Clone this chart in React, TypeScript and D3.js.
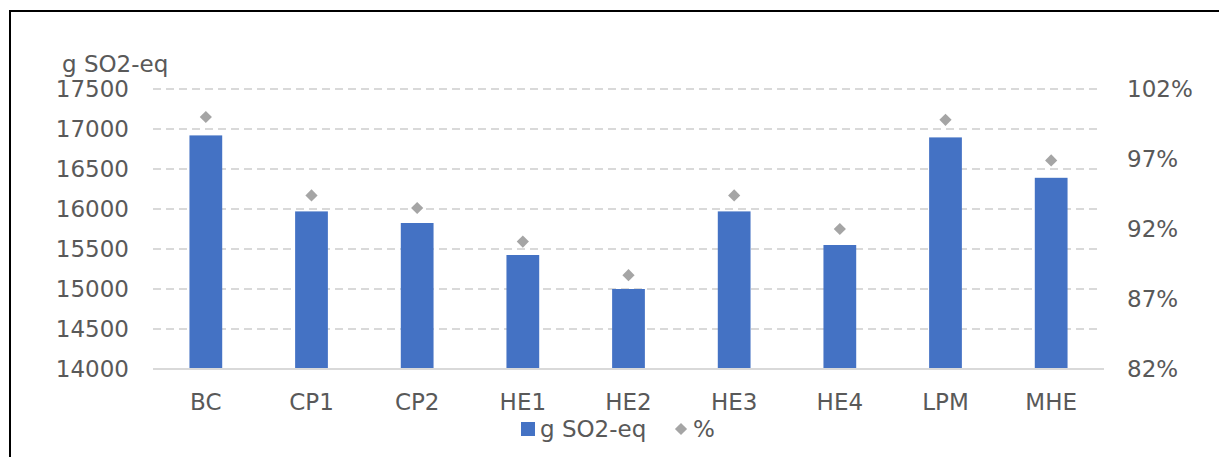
import { useEffect, useRef } from 'react';
import * as d3 from 'd3';

const categories = ['BC', 'CP1', 'CP2', 'HE1', 'HE2', 'HE3', 'HE4', 'LPM', 'MHE'];
const so2Values = [16920, 15970, 15825, 15425, 15000, 15970, 15550, 16895, 16390];
const pctValues = [100.0, 94.4, 93.5, 91.1, 88.7, 94.4, 92.0, 99.8, 96.9];
const leftTicks = [14000, 14500, 15000, 15500, 16000, 16500, 17000, 17500];
const rightTicks = [82, 87, 92, 97, 102];

const W = 1219;
const H = 457;
const FONT = '"DejaVu Sans", Verdana, sans-serif';
const TEXT = '#595959';

const App = () => {
  const svgRef = useRef<SVGSVGElement>(null);

  useEffect(() => {
    if (!svgRef.current) return;
    const svg = d3.select(svgRef.current);
    svg.selectAll('*').remove();

    const left = 153;
    const right = 1104;
    const top = 89;
    const bottom = 369;

    // outer frame (only top and left edges are visible)
    svg.append('path')
      .attr('d', `M10,${H} L10,11 L${W},11`)
      .attr('fill', 'none')
      .attr('stroke', '#000')
      .attr('stroke-width', 2);

    const x = d3.scaleBand<string>()
      .domain(categories)
      .range([left, right])
      .paddingInner(0.69)
      .paddingOuter(0.345);

    const y = d3.scaleLinear().domain([14000, 17500]).range([bottom, top]);
    const y2 = d3.scaleLinear().domain([82, 102]).range([bottom, top]);

    // gridlines
    svg.append('g')
      .selectAll('line')
      .data(leftTicks.slice(1))
      .join('line')
      .attr('x1', left)
      .attr('x2', right - 4)
      .attr('y1', d => y(d))
      .attr('y2', d => y(d))
      .attr('stroke', '#d9d9d9')
      .attr('stroke-width', 2)
      .attr('stroke-dasharray', '8,5');

    // left tick labels
    svg.append('g')
      .selectAll('text')
      .data(leftTicks)
      .join('text')
      .attr('x', 129)
      .attr('y', d => y(d) + 8)
      .attr('text-anchor', 'end')
      .style('font-family', FONT)
      .style('font-size', '23px')
      .style('fill', TEXT)
      .text(d => String(d));

    // right tick labels
    svg.append('g')
      .selectAll('text')
      .data(rightTicks)
      .join('text')
      .attr('x', 1127)
      .attr('y', d => y2(d) + 8)
      .attr('text-anchor', 'start')
      .style('font-family', FONT)
      .style('font-size', '23px')
      .style('fill', TEXT)
      .text(d => `${d}%`);

    // axis title
    svg.append('text')
      .attr('x', 62)
      .attr('y', 72)
      .style('font-family', FONT)
      .style('font-size', '23px')
      .style('fill', TEXT)
      .text('g SO2-eq');

    // bars
    svg.append('g')
      .selectAll('rect')
      .data(categories)
      .join('rect')
      .attr('x', d => x(d) || 0)
      .attr('y', (d, i) => y(so2Values[i]))
      .attr('width', x.bandwidth())
      .attr('height', (d, i) => bottom - y(so2Values[i]))
      .attr('fill', '#4472c4');

    // x axis line
    svg.append('line')
      .attr('x1', left)
      .attr('x2', right)
      .attr('y1', bottom)
      .attr('y2', bottom)
      .attr('stroke', '#d9d9d9')
      .attr('stroke-width', 2);

    // diamonds
    const diamond = d3.symbol().type(d3.symbolDiamond2).size(95);
    svg.append('g')
      .selectAll('path')
      .data(categories)
      .join('path')
      .attr('d', diamond)
      .attr('transform', (d, i) =>
        `translate(${(x(d) || 0) + x.bandwidth() / 2},${y2(pctValues[i])})`)
      .attr('fill', '#a5a5a5');

    // category labels
    svg.append('g')
      .selectAll('text')
      .data(categories)
      .join('text')
      .attr('x', d => (x(d) || 0) + x.bandwidth() / 2)
      .attr('y', 410)
      .attr('text-anchor', 'middle')
      .style('font-family', FONT)
      .style('font-size', '23px')
      .style('fill', TEXT)
      .text(d => d);

    // legend
    const lg = svg.append('g');
    lg.append('rect')
      .attr('x', 521)
      .attr('y', 422)
      .attr('width', 14)
      .attr('height', 14)
      .attr('fill', '#4472c4');
    lg.append('text')
      .attr('x', 540)
      .attr('y', 437)
      .style('font-family', FONT)
      .style('font-size', '23px')
      .style('fill', TEXT)
      .text('g SO2-eq');
    lg.append('path')
      .attr('d', diamond)
      .attr('transform', 'translate(681,429)')
      .attr('fill', '#a5a5a5');
    lg.append('text')
      .attr('x', 693)
      .attr('y', 437)
      .style('font-family', FONT)
      .style('font-size', '23px')
      .style('fill', TEXT)
      .text('%');
  }, []);

  return (
    <svg
      ref={svgRef}
      width={W}
      height={H}
      style={{ position: 'absolute', left: 0, top: 0, background: '#fff' }}
    />
  );
};

export default App;
